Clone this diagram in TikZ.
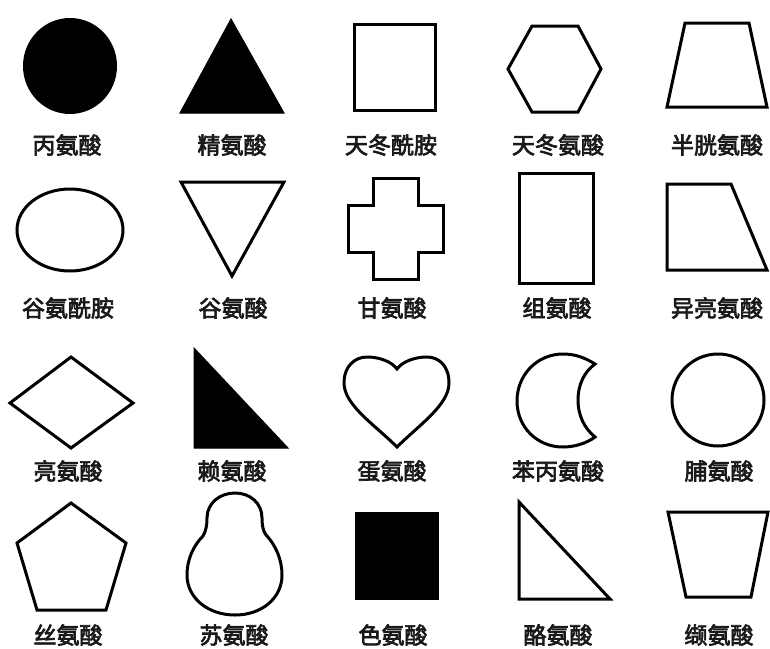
\documentclass[tikz,border=0pt]{standalone}
\usepackage{fontspec}
\newfontfamily\cjk[FakeBold=3]{Noto Sans CJK SC}
\begin{document}
\begin{tikzpicture}[x=1pt,y=-1pt,
  outl/.style={draw=black,line width=3pt,line join=miter},
  filledshape/.style={draw=black,fill=black,line width=1pt},
  lab/.style={inner sep=0pt,font=\cjk\fontsize{23}{23}\selectfont,text=black!90}]
\useasboundingbox[fill=white] (0,0) rectangle (770,648);
% ---------- row 1 ----------
\fill[black] (70,66) ellipse[x radius=47,y radius=48];
\draw[filledshape] (231,19) -- (180,113) -- (284,113) -- cycle;
\draw[outl] (354,24) rectangle (435,110);
\draw[outl] (508,69) -- (532,26) -- (578,26) -- (601,69) -- (578,112) -- (532,112) -- cycle;
\draw[outl] (685,23) -- (749,23) -- (767,107) -- (667,107) -- cycle;
\node[lab] (ala) at (67,145) {丙氨酸};
\node[lab] (arg) at (232,145) {精氨酸};
\node[lab] (asn) at (391,145) {天冬酰胺};
\node[lab] (asp) at (558,145) {天冬氨酸};
\node[lab] (cys) at (717,145) {半胱氨酸};
% ---------- row 2 ----------
\draw[outl] (70,230) ellipse[x radius=53,y radius=41];
\draw[outl] (181,182) -- (284,182) -- (232,276) -- cycle;
\draw[outl] (348,205) -- (373,205) -- (373,178) -- (418,178) -- (418,205) -- (443,205)
  -- (443,252) -- (418,252) -- (418,279) -- (373,279) -- (373,252) -- (348,252) -- cycle;
\draw[outl] (519,173) rectangle (593,283);
\draw[outl] (667,184) -- (731,184) -- (767,270) -- (667,270) -- cycle;
\node[lab] (gln) at (68,308) {谷氨酰胺};
\node[lab] (glu) at (233,308) {谷氨酸};
\node[lab] (gly) at (392,308) {甘氨酸};
\node[lab] (his) at (557,308) {组氨酸};
\node[lab] (ile) at (717,308) {异亮氨酸};
% ---------- row 3 ----------
\draw[outl] (10,403) -- (71,357) -- (133,403) -- (71,448) -- cycle;
\draw[filledshape] (194,348) -- (194,448) -- (288,448) -- cycle;
\draw[outl] (397,447) .. controls (375,425) and (344,405) .. (344,383)
  .. controls (344,366) and (355,357) .. (367,357)
  .. controls (380,357) and (392,362) .. (397,369)
  .. controls (402,362) and (414,357) .. (427,357)
  .. controls (439,357) and (449,366) .. (449,383)
  .. controls (449,405) and (419,425) .. (397,447) -- cycle;
\draw[outl] (595,364) .. controls (584,357) and (574,354) .. (563,354)
  .. controls (537,354) and (517,375) .. (517,401)
  .. controls (517,427) and (537,447) .. (563,447)
  .. controls (575,447) and (587,443) .. (595,437)
  .. controls (584,428) and (578,415) .. (578,400)
  .. controls (578,385) and (584,372) .. (595,364) -- cycle;
\draw[outl] (718,400) circle[radius=46];
\node[lab] (leu) at (68,471) {亮氨酸};
\node[lab] (lys) at (232,471) {赖氨酸};
\node[lab] (met) at (392,471) {蛋氨酸};
\node[lab] (phe) at (558,471) {苯丙氨酸};
\node[lab] (pro) at (719,471) {脯氨酸};
% ---------- row 4 ----------
\draw[outl] (71,503) -- (126,543) -- (106,610) -- (37,610) -- (17,543) -- cycle;
\draw[outl] (266,535) .. controls (263,531) and (262,525) .. (262,518)
  .. controls (262,503) and (250,493) .. (235,493)
  .. controls (220,493) and (207,503) .. (207,518)
  .. controls (207,525) and (206,531) .. (203,536)
  .. controls (193,546) and (187,560) .. (187,575)
  .. controls (187,598) and (208,615) .. (235,615)
  .. controls (262,615) and (282,598) .. (282,575)
  .. controls (282,560) and (276,546) .. (267,536) -- cycle;
\fill[black] (355,512) rectangle (439,600);
\draw[outl] (519,502) -- (519,599) -- (610,599) -- cycle;
\draw[outl] (668,512) -- (768,512) -- (751,597) -- (686,597) -- cycle;
\node[lab] (ser) at (68,635) {丝氨酸};
\node[lab] (thr) at (234,635) {苏氨酸};
\node[lab] (trp) at (393,635) {色氨酸};
\node[lab] (tyr) at (558,635) {酪氨酸};
\node[lab] (val) at (719,635) {缬氨酸};
\end{tikzpicture}
\end{document}
